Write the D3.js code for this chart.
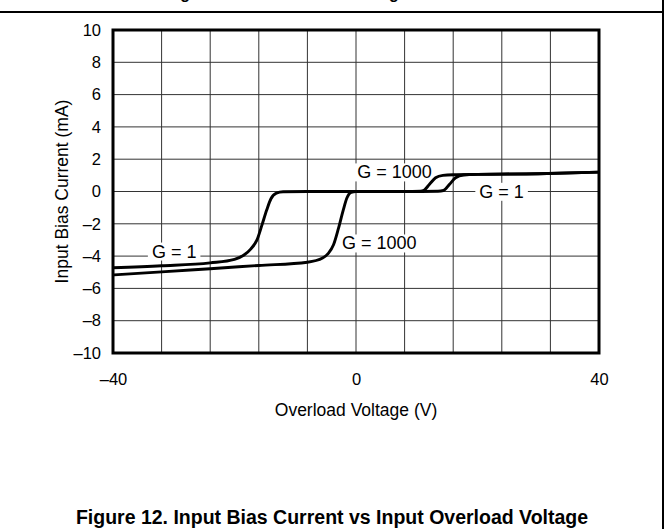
<!DOCTYPE html>
<html>
<head>
<meta charset="utf-8">
<script src="https://cdn.jsdelivr.net/npm/d3@7"></script>
<style>
  body { margin: 0; background: #fff; }
  svg { display: block; font-family: "Liberation Sans", Arial, sans-serif; }
</style>
</head>
<body>
<div id="container"></div>
<script>
// values
const xTicks = [-40, 0, 40];
const yTicks = [10, 8, 6, 4, 2, 0, -2, -4, -6, -8, -10];

const gain1 = [
  [-40, -4.72], [-32, -4.6], [-24, -4.42], [-20, -4.2], [-18.5, -3.95], [-17.3, -3.55],
  [-16.3, -3.0], [-15.5, -2.1], [-14.7, -1.15], [-14, -0.45], [-13.1, -0.1], [-12, -0.02],
  [-8, 0], [0, 0], [8, 0], [13.5, 0.02], [14.4, 0.06], [15.4, 0.45], [16.4, 0.85],
  [17.7, 1.02], [20, 1.06], [30, 1.1], [40, 1.2]
];
const gain1000 = [
  [-40, -5.17], [-32, -4.98], [-24, -4.78], [-16, -4.58], [-8, -4.38], [-5.5, -4.12],
  [-4.6, -3.85], [-3.7, -3.3], [-2.9, -2.3], [-2.1, -1.15], [-1.5, -0.4], [-0.8, -0.05],
  [0, 0], [8, 0], [10.6, 0.02], [11.2, 0.08], [12.1, 0.45], [13.1, 0.85], [14.3, 1.0],
  [16, 1.04], [20, 1.06], [30, 1.1], [40, 1.2]
];

const labels = [
  {text: "G = 1000", v: 0.2, i: 1.2},
  {text: "G = 1", v: 20.3, i: 0},
  {text: "G = 1000", v: -2.3, i: -3.2},
  {text: "G = 1", v: -33.6, i: -3.7}
];

const width = 665;
const height = 529;
const plot = {left: 113, top: 30, right: 599, bottom: 353};

const svg = d3.select("#container")
              .append("svg")
              .attr("width", width)
              .attr("height", height);

// clipped heading of the figure above + frame lines
svg.append("text")
   .text("Figure 11. Gain Error vs Voltage")
   .attr("x", 166)
   .attr("y", -1)
   .attr("font-size", 16)
   .attr("font-weight", "bold");
svg.append("line")
   .attr("x1", 0).attr("x2", 663).attr("y1", 12).attr("y2", 12)
   .attr("stroke", "#000").attr("stroke-width", 2);
svg.append("line")
   .attr("x1", 663).attr("x2", 663).attr("y1", 0).attr("y2", height)
   .attr("stroke", "#000").attr("stroke-width", 2);

const x = d3.scaleLinear().domain([-40, 40]).range([plot.left, plot.right]);
const y = d3.scaleLinear().domain([-10, 10]).range([plot.bottom, plot.top]);

// grid
const grid = svg.append("g").attr("stroke", "#333").attr("stroke-width", 1);
grid.selectAll(".vx")
    .data(d3.range(-32, 40, 8))
    .enter().append("line")
    .attr("x1", (d) => x(d)).attr("x2", (d) => x(d))
    .attr("y1", plot.top).attr("y2", plot.bottom);
grid.selectAll(".hy")
    .data(d3.range(-8, 10, 2))
    .enter().append("line")
    .attr("x1", plot.left).attr("x2", plot.right)
    .attr("y1", (d) => y(d)).attr("y2", (d) => y(d));

const minus = (d) => d < 0 ? "\u2013" + Math.abs(d) : d;

// axes (labels only, border drawn separately)
const xAxis = d3.axisBottom(x).tickValues(xTicks).tickSize(0).tickPadding(20).tickFormat(minus);
svg.append("g")
   .attr("transform", "translate(0," + plot.bottom + ")")
   .call(xAxis)
   .call((g) => g.select(".domain").remove())
   .selectAll("text")
   .attr("font-size", 16.5)
   .attr("font-family", "Liberation Sans, Arial, sans-serif")
   .attr("fill", "#000");

const yAxis = d3.axisLeft(y).tickValues(yTicks).tickSize(0).tickPadding(12).tickFormat(minus);
svg.append("g")
   .attr("transform", "translate(" + plot.left + ",0)")
   .call(yAxis)
   .call((g) => g.select(".domain").remove())
   .selectAll("text")
   .attr("font-size", 16.5)
   .attr("font-family", "Liberation Sans, Arial, sans-serif")
   .attr("fill", "#000");

// curve labels with white backing
labels.forEach((l) => {
  const g = svg.append("g");
  const r = g.append("rect").attr("fill", "#fff");
  const t = g.append("text")
             .text(l.text)
             .attr("x", x(l.v))
             .attr("y", y(l.i))
             .attr("font-size", 18)
             .attr("dy", "0.35em");
  const b = t.node().getBBox();
  r.attr("x", b.x - 4).attr("y", b.y + 1)
   .attr("width", b.width + 8).attr("height", b.height - 2);
});

// curves
const line = d3.line()
               .x((d) => x(d[0]))
               .y((d) => y(d[1]))
               .curve(d3.curveMonotoneX);
svg.selectAll(".curve")
   .data([gain1, gain1000])
   .enter().append("path")
   .attr("d", line)
   .attr("fill", "none")
   .attr("stroke", "#000")
   .attr("stroke-width", 2.9);

// plot border
svg.append("rect")
   .attr("x", plot.left).attr("y", plot.top)
   .attr("width", plot.right - plot.left).attr("height", plot.bottom - plot.top)
   .attr("fill", "none")
   .attr("stroke", "#000")
   .attr("stroke-width", 3);

svg.append("text")
   .text("Overload Voltage (V)")
   .attr("x", (plot.left + plot.right) / 2)
   .attr("y", 416)
   .attr("text-anchor", "middle")
   .attr("font-size", 17.5);

svg.append("text")
   .text("Input Bias Current (mA)")
   .attr("transform", "translate(68," + (plot.top + plot.bottom) / 2 + ")rotate(-90)")
   .attr("text-anchor", "middle")
   .attr("font-size", 17.5);

svg.append("text")
   .text("Figure 12. Input Bias Current vs Input Overload Voltage")
   .attr("x", 332)
   .attr("y", 524)
   .attr("text-anchor", "middle")
   .attr("font-size", 19.5)
   .attr("font-weight", "bold");
</script>
</body>
</html>
